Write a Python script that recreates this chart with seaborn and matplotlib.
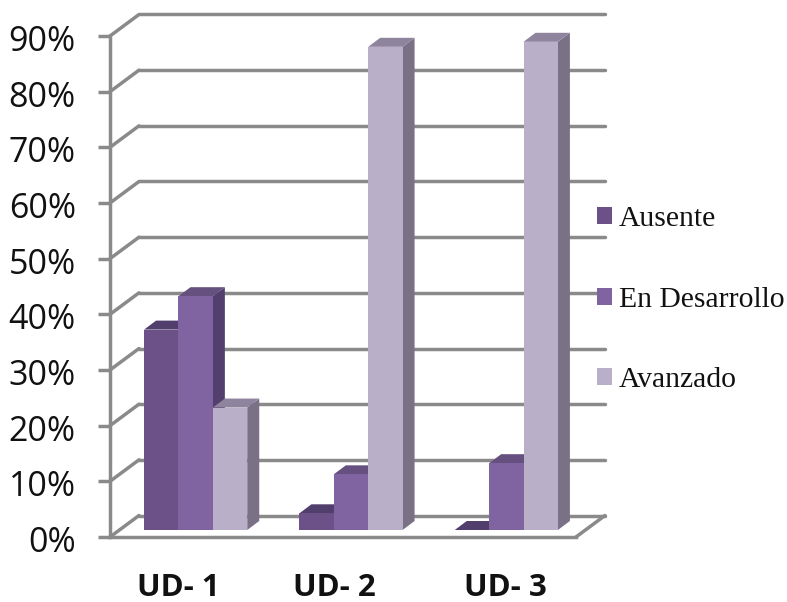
import matplotlib
matplotlib.use("Agg")
import matplotlib.pyplot as plt
from matplotlib.patches import Polygon
from matplotlib.transforms import Affine2D
import pandas as pd
import seaborn as sns

units = ["UD- 1", "UD- 2", "UD- 3"]
levels = ["Ausente", "En Desarrollo", "Avanzado"]
ausente = [36, 3, 0]
en_desarrollo = [42, 10, 12]
avanzado = [22, 86.8, 87.7]
percent_ticks = list(range(0, 100, 10))

front_colors = ["#6B5187", "#8064A2", "#B9AFC9"]
side_colors = ["#4F3D69", "#523F6D", "#7B7186"]
top_colors = ["#513E6C", "#65507F", "#8E849E"]
grid_grey = "#8A8A8A"

W, H = 787, 602
LEFT, RIGHT, TOP, BOTTOM = 110, 576, 36, 537

sns.set_theme(style="white")
plt.rcParams["font.family"] = "Open Sans"

fig = plt.figure(figsize=(W / 100, H / 100), dpi=100)
ax = fig.add_axes([LEFT / W, 1 - BOTTOM / H, (RIGHT - LEFT) / W, (BOTTOM - TOP) / H])

table = pd.DataFrame({
    "unit": units * 3,
    "level": [lv for lv in levels for _ in units],
    "value": ausente + en_desarrollo + avanzado,
})
sns.barplot(data=table, x="unit", y="value", hue="level", hue_order=levels,
            palette=front_colors, width=0.664, gap=0, saturation=1,
            ax=ax, zorder=5, linewidth=0)

ax.set_xlim(-0.5, 2.5)
ax.set_ylim(0, 90)
px_x = (RIGHT - LEFT) / 3
px_y = (BOTTOM - TOP) / 90

# Pseudo-3D box: offsets from the front plane, expressed in data units.
wall_dx, wall_dy = 29 / px_x, 21.5 / px_y
plane_dx, plane_dy = 8 / px_x, 7 / px_y
bar_dx, bar_dy = 12 / px_x, 9 / px_y

line_style = dict(color=grid_grey, lw=2.5, clip_on=False, zorder=1,
                  solid_capstyle="round")
for v in percent_ticks:
    ax.plot([-0.5 + wall_dx, 2.5 + wall_dx], [v + wall_dy] * 2, **line_style)
    ax.plot([-0.5, -0.5 + wall_dx], [v, v + wall_dy], **line_style)
ax.plot([2.5, 2.5 + wall_dx], [0, wall_dy], **line_style)

# Extrude each bar with a side and a top face, left to right.
order = 5
for i in range(len(units)):
    for k, container in enumerate(ax.containers):
        bar = container[i]
        x0 = bar.get_x() + plane_dx
        w = bar.get_width()
        h = bar.get_height()
        y0 = plane_dy
        bar.set_x(x0)
        bar.set_y(y0)
        bar.set_clip_on(False)
        bar.set_zorder(order + 2)
        x1, y1 = x0 + w, y0 + h
        ax.add_patch(Polygon(
            [(x1, y0), (x1 + bar_dx, y0 + bar_dy), (x1 + bar_dx, y1 + bar_dy), (x1, y1)],
            closed=True, fc=side_colors[k], ec="none", clip_on=False, zorder=order))
        ax.add_patch(Polygon(
            [(x0, y1), (x0 + bar_dx, y1 + bar_dy), (x1 + bar_dx, y1 + bar_dy), (x1, y1)],
            closed=True, fc=top_colors[k], ec="none", clip_on=False, zorder=order + 1))
        order += 3

sns.despine(ax=ax, top=True, right=True)
for name in ("left", "bottom"):
    ax.spines[name].set_color(grid_grey)
    ax.spines[name].set_linewidth(2.5)
    ax.spines[name].set_zorder(2)

ax.set_yticks(percent_ticks, labels=[f"{v}%" for v in percent_ticks])
ax.tick_params(axis="y", left=True, length=8.6, width=2.5, color=grid_grey,
               pad=16, labelsize=24.5, labelcolor="#111111")
for label in ax.get_yticklabels():
    label.set_transform(label.get_transform() + Affine2D().translate(0, -2))
ax.set_xticks([-0.062, 0.942, 2.043], labels=units)
ax.tick_params(axis="x", bottom=False, length=0, pad=26, labelsize=22.5, labelcolor="#111111")
for label in ax.get_xticklabels():
    label.set_fontweight("bold")
ax.set_xlabel("")
ax.set_ylabel("")

handles, labels = ax.get_legend_handles_labels()
ax.legend(handles, labels, loc="upper left", bbox_to_anchor=(597 / W, 1 - 206 / H),
          bbox_transform=fig.transFigure, frameon=False, borderpad=0, borderaxespad=0,
          handlelength=0.507, handleheight=0.507, handletextpad=0.24, labelspacing=1.85,
          prop={"family": "Liberation Serif", "size": 21.3}, labelcolor="#111111")

fig.savefig("out.png", dpi=100, facecolor="white")
